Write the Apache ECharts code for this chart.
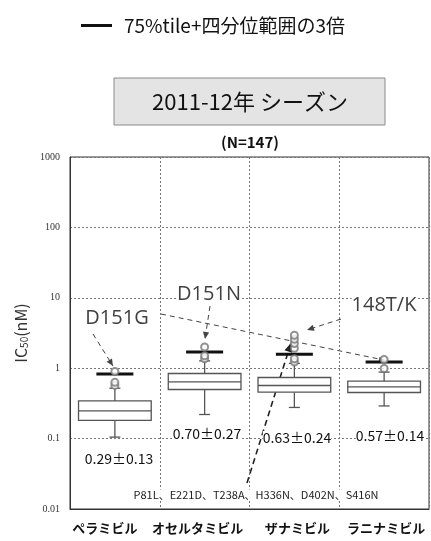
<!DOCTYPE html>
<html>
<head>
<meta charset="utf-8">
<script src="https://cdn.jsdelivr.net/npm/echarts@6/dist/echarts.min.js"></script>
<style>
  html, body { margin: 0; padding: 0; background: #fff; }
  #chart { width: 431px; height: 541px; }
</style>
</head>
<body>
<div id="chart"></div>
<script>
// IC50 of four neuraminidase inhibitors, 2011-12 season (N=147)
const categories = ['ペラミビル', 'オセルタミビル', 'ザナミビル', 'ラニナミビル'];
const lowWhisker  = [0.105, 0.22, 0.277, 0.291];
const q1          = [0.182, 0.498, 0.456, 0.452];
const median      = [0.247, 0.639, 0.568, 0.543];
const q3          = [0.343, 0.841, 0.738, 0.654];
const highWhisker = [0.52, 1.27, 1.17, 0.88];
// 75th percentile + 3 x IQR cut-off
const cutoff      = [0.83, 1.70, 1.58, 1.22];
// outliers: [category index, IC50]
const outliers = [
  [0, 0.57], [0, 0.63], [0, 0.90],
  [1, 1.36], [1, 1.50], [1, 2.00],
  [2, 1.22], [2, 1.36], [2, 1.92], [2, 2.24], [2, 2.58], [2, 2.94],
  [3, 0.99], [3, 1.33]
];
const meanSd = ['0.29±0.13', '0.70±0.27', '0.63±0.24', '0.57±0.14'];
const yTickLabels = ['0.01', '0.1', '1', '10', '100', '1000'];
const cutoffName = '75%tile+四分位範囲の3倍';

const chart = echarts.init(document.getElementById('chart'));

const boxData = categories.map((c, i) => [i, lowWhisker[i], q1[i], median[i], q3[i], highWhisker[i]]);
const cutoffData = cutoff.map((v, i) => [i, v]);

function renderBox(params, api) {
  const i = api.value(0);
  const lo = api.coord([i, api.value(1)]);
  const b1 = api.coord([i, api.value(2)]);
  const md = api.coord([i, api.value(3)]);
  const b3 = api.coord([i, api.value(4)]);
  const hi = api.coord([i, api.value(5)]);
  const bw = api.size([1, 1])[0] * 0.81;
  const cx = lo[0];
  const cap = 5.5;
  const st = { stroke: '#555', lineWidth: 1.3, fill: null };
  return {
    type: 'group',
    children: [
      { type: 'line', shape: { x1: cx, y1: b1[1], x2: cx, y2: lo[1] }, style: st },
      { type: 'line', shape: { x1: cx - cap, y1: lo[1], x2: cx + cap, y2: lo[1] }, style: st },
      { type: 'line', shape: { x1: cx, y1: b3[1], x2: cx, y2: hi[1] }, style: st },
      { type: 'line', shape: { x1: cx - cap, y1: hi[1], x2: cx + cap, y2: hi[1] }, style: st },
      { type: 'rect', shape: { x: cx - bw / 2, y: b3[1], width: bw, height: b1[1] - b3[1] },
        style: { stroke: '#555', lineWidth: 1.3, fill: '#fff' } },
      { type: 'line', shape: { x1: cx - bw / 2, y1: md[1], x2: cx + bw / 2, y2: md[1] }, style: st }
    ]
  };
}

function renderCutoff(params, api) {
  const p = api.coord([api.value(0), api.value(1)]);
  const half = 18.5;
  return {
    type: 'line',
    shape: { x1: p[0] - half, y1: p[1], x2: p[0] + half, y2: p[1] },
    style: { stroke: '#111', lineWidth: 3 }
  };
}

// dashed annotation arrow with a filled head at (x2, y2)
function arrow(x1, y1, x2, y2, opts) {
  opts = opts || {};
  const color = opts.color || '#444';
  const lw = opts.lineWidth || 1;
  const head = opts.head === false ? null : (opts.headSize || 7);
  const a = Math.atan2(y2 - y1, x2 - x1);
  const children = [{
    type: 'line',
    shape: { x1: x1, y1: y1, x2: x2, y2: y2 },
    style: { stroke: color, lineWidth: lw, lineDash: opts.dash || [5, 4] }
  }];
  if (head) {
    const w = head * 0.45;
    const bx = x2 - head * Math.cos(a), by = y2 - head * Math.sin(a);
    children.push({
      type: 'polygon',
      shape: { points: [[x2, y2],
        [bx + w * Math.sin(a), by - w * Math.cos(a)],
        [bx - w * Math.sin(a), by + w * Math.cos(a)]] },
      style: { fill: color }
    });
  }
  return { type: 'group', silent: true, z: 20, children: children };
}

const jp = '"Noto Sans CJK JP", "Open Sans", sans-serif';
const catLabelStyle = { fontSize: 13, fontWeight: 'bold', color: '#111', fontFamily: jp };

chart.setOption({
  animation: false,
  backgroundColor: '#fff',
  legend: {
    left: 76, top: 11,
    data: [{ name: cutoffName, icon: 'rect' }],
    itemWidth: 31, itemHeight: 3,
    textStyle: { fontSize: 19, color: '#111', fontFamily: jp, padding: [0, 0, 0, 7] }
  },
  grid: { left: 70, right: 2, top: 157, bottom: 32, show: true, borderColor: '#333', borderWidth: 1 },
  xAxis: {
    type: 'category',
    data: categories,
    axisLine: { lineStyle: { color: '#333' } },
    axisTick: { show: false, interval: 0 },
    axisLabel: {
      interval: 0, margin: 13,
      formatter: (v, i) => '{c' + i + '|' + v + '}',
      rich: {
        c0: Object.assign({ padding: [0, 20, 0, 0] }, catLabelStyle),
        c1: Object.assign({ padding: [0, 14, 0, 0] }, catLabelStyle),
        c2: Object.assign({ padding: [0, 0, 0, 6] }, catLabelStyle),
        c3: Object.assign({ padding: [0, 0, 0, 4] }, catLabelStyle)
      }
    },
    splitLine: { show: true, interval: 0, lineStyle: { type: [2, 2], color: '#777' } }
  },
  yAxis: {
    type: 'log', logBase: 10, min: 0.01, max: 1000,
    axisLine: { show: true, lineStyle: { color: '#333' } },
    axisTick: { show: false },
    axisLabel: {
      fontFamily: '"Liberation Serif", serif', fontSize: 10, color: '#333', margin: 10,
      formatter: v => yTickLabels[Math.round(Math.log10(v)) + 2]
    },
    splitLine: { show: true, lineStyle: { type: [2, 2], color: '#777' } },
    name: '{a|IC}{b|50}{a|(nM)}',
    nameLocation: 'middle', nameRotate: 90, nameGap: 37,
    nameTextStyle: {
      rich: {
        a: { fontSize: 16, color: '#333', fontFamily: jp },
        b: { fontSize: 10, color: '#333', fontFamily: jp, padding: [6, 0, 0, 0] }
      }
    }
  },
  series: [
    {
      type: 'custom', name: 'box', renderItem: renderBox, data: boxData,
      encode: { x: 0, y: [1, 2, 3, 4, 5] }, z: 3
    },
    {
      type: 'custom', name: cutoffName, renderItem: renderCutoff, data: cutoffData,
      itemStyle: { color: '#111' }, encode: { x: 0, y: 1 }, z: 4
    },
    {
      type: 'scatter', name: 'outlier', data: outliers,
      symbol: 'emptyCircle', symbolSize: 7,
      itemStyle: { color: '#777', borderWidth: 1 }, z: 5
    }
  ],
  graphic: [
    { type: 'rect', shape: { x: 114, y: 78, width: 271, height: 47 },
      style: { fill: '#e4e4e4', stroke: '#8a8a8a', lineWidth: 1 } },
    { type: 'text', x: 250, y: 102,
      style: { text: '2011-12年 シーズン', fontSize: 22, fill: '#111', fontFamily: jp,
               align: 'center', verticalAlign: 'middle' } },
    { type: 'text', x: 250, y: 142,
      style: { text: '(N=147)', fontSize: 15, fontWeight: 'bold', fill: '#111', fontFamily: jp,
               align: 'center', verticalAlign: 'middle' } },
    // mean ± SD
    { type: 'text', x: 119, y: 459, z: 10,
      style: { text: meanSd[0], fontSize: 14, fill: '#111', fontFamily: jp, align: 'center', verticalAlign: 'middle', backgroundColor: '#fff' } },
    { type: 'text', x: 207, y: 434, z: 10,
      style: { text: meanSd[1], fontSize: 14, fill: '#111', fontFamily: jp, align: 'center', verticalAlign: 'middle', backgroundColor: '#fff' } },
    { type: 'text', x: 297, y: 438, z: 10,
      style: { text: meanSd[2], fontSize: 14, fill: '#111', fontFamily: jp, align: 'center', verticalAlign: 'middle', backgroundColor: '#fff' } },
    { type: 'text', x: 390, y: 436, z: 10,
      style: { text: meanSd[3], fontSize: 14, fill: '#111', fontFamily: jp, align: 'center', verticalAlign: 'middle', backgroundColor: '#fff' } },
    // mutation labels
    { type: 'text', x: 117, y: 318, z: 10,
      style: { text: 'D151G', fontSize: 20, fill: '#404040', fontFamily: '"Open Sans", sans-serif', align: 'center', verticalAlign: 'middle', backgroundColor: '#fff' } },
    { type: 'text', x: 209, y: 294, z: 10,
      style: { text: 'D151N', fontSize: 20, fill: '#404040', fontFamily: '"Open Sans", sans-serif', align: 'center', verticalAlign: 'middle', backgroundColor: '#fff' } },
    { type: 'text', x: 384, y: 305, z: 10,
      style: { text: '148T/K', fontSize: 20, fill: '#404040', fontFamily: '"Open Sans", sans-serif', align: 'center', verticalAlign: 'middle', backgroundColor: '#fff' } },
    { type: 'text', x: 256, y: 495, z: 10,
      style: { text: 'P81L、E221D、T238A、H336N、D402N、S416N', fontSize: 11, fill: '#222', fontFamily: jp, align: 'center', verticalAlign: 'middle', backgroundColor: '#fff' } },
    // arrows
    arrow(93, 334, 113, 366),
    arrow(210, 306, 205, 339),
    arrow(341, 319, 307, 330),
    arrow(161, 314, 384, 360, { headSize: 5 }),
    arrow(247, 483, 291, 343, { color: '#222', lineWidth: 1.6, dash: [6, 4], headSize: 9 })
  ]
});
</script>
</body>
</html>
